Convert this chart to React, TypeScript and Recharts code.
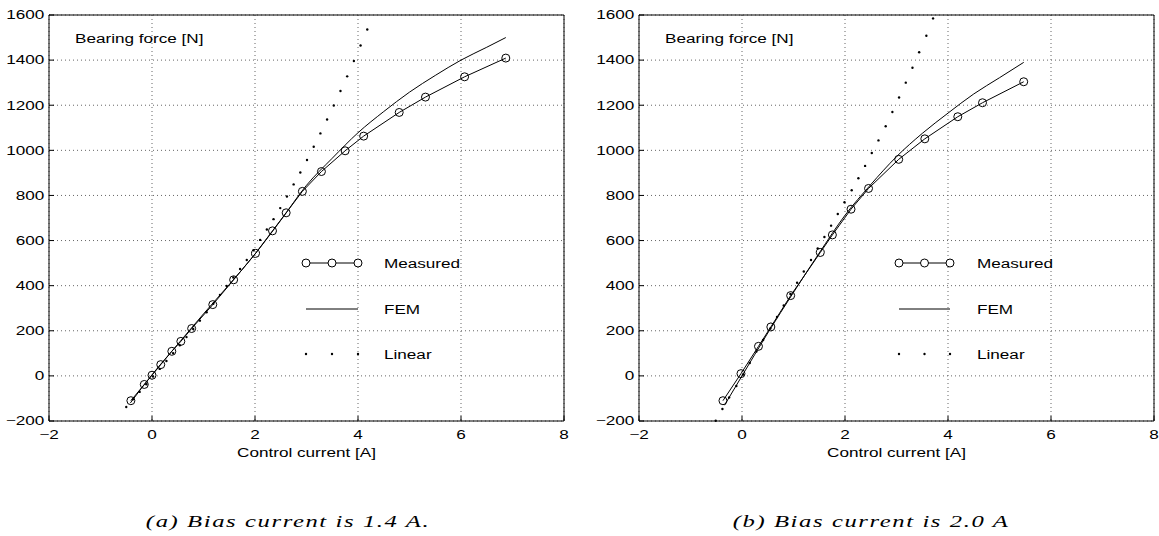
import React from "react";
import { LineChart, Line, XAxis, YAxis, CartesianGrid, ReferenceArea, Legend } from "recharts";

// ---------- data ----------
const xTicks = [-2, 0, 2, 4, 6, 8];
const yTicks = [-200, 0, 200, 400, 600, 800, 1000, 1200, 1400, 1600];

const seriesNames = ["Measured", "FEM", "Linear"];
const yTitle = "Bearing force [N]";
const xTitle = "Control current [A]";
const captions = ["(a) Bias current is 1.4 A.", "(b) Bias current is 2.0 A"];

// (a) bias current 1.4 A
const measuredAX = [-0.41, -0.15, 0.0, 0.17, 0.385, 0.56, 0.77, 1.18, 1.585, 2.01, 2.34, 2.605, 2.92, 3.29, 3.75, 4.11, 4.8, 5.31, 6.07, 6.87];
const measuredAY = [-110, -38, 3, 50, 109, 153, 210, 316, 426, 543, 643, 723, 818, 906, 998, 1063, 1168, 1236, 1326, 1409];
const femAX = [-0.42, 0, 0.5, 1, 1.5, 2, 2.5, 3, 3.5, 4, 4.5, 5, 5.5, 6, 6.5, 6.87];
const femAY = [-120, 5, 140, 275, 405, 540, 690, 845, 965, 1078, 1172, 1258, 1332, 1400, 1457, 1500];
const linearAX = [-0.5, -0.37, -0.24, -0.11, 0.02, 0.15, 0.28, 0.41, 0.54, 0.67, 0.8, 0.93, 1.06, 1.19, 1.32, 1.45, 1.58, 1.71, 1.84, 1.97, 2.1, 2.23, 2.36, 2.49, 2.62, 2.75, 2.88, 3.01, 3.14, 3.27, 3.4, 3.53, 3.66, 3.79, 3.92, 4.05, 4.18];
const linearAY = [-138, -104, -71, -37, -3, 31, 66, 101, 136, 172, 208, 245, 282, 320, 359, 399, 436, 474, 514, 557, 603, 649, 695, 744, 795, 849, 902, 957, 1016, 1075, 1137, 1199, 1263, 1328, 1396, 1465, 1536];

// (b) bias current 2.0 A
const measuredBX = [-0.37, -0.02, 0.32, 0.56, 0.945, 1.52, 1.755, 2.117, 2.457, 3.043, 3.55, 4.19, 4.67, 5.47];
const measuredBY = [-110, 10, 131, 217, 356, 547, 625, 739, 831, 960, 1051, 1149, 1211, 1304];
const femBX = [-0.34, 0, 0.5, 1, 1.5, 2, 2.5, 3, 3.5, 4, 4.5, 5, 5.47];
const femBY = [-130, 0, 190, 370, 545, 712, 848, 972, 1075, 1165, 1250, 1322, 1390];
const linearBX = [-0.51, -0.38, -0.25, -0.11, 0.02, 0.15, 0.28, 0.41, 0.55, 0.68, 0.81, 0.94, 1.07, 1.2, 1.34, 1.47, 1.6, 1.73, 1.86, 1.99, 2.13, 2.26, 2.39, 2.52, 2.65, 2.79, 2.92, 3.05, 3.18, 3.31, 3.44, 3.58, 3.71];
const linearBY = [-199, -147, -96, -45, 6, 57, 108, 159, 210, 261, 312, 363, 413, 463, 514, 565, 616, 666, 718, 770, 823, 876, 931, 988, 1044, 1107, 1170, 1234, 1300, 1366, 1435, 1508, 1585];

const zip = (xs: number[], ys: number[]) => xs.map((x, i) => ({ x, y: ys[i] }));

// ---------- styling ----------
const PLOT_LEFT = 49;
const PLOT_TOP = 15;
const PLOT_BOTTOM = 421;
const CHART_H = 470;
const SX = 1.37;
const SANS = "'Liberation Sans', Arial, Helvetica, sans-serif";

const fmt = (v: number) => (v < 0 ? "\u2212" + Math.abs(v) : String(v));

function SText({ x, y, anchor = "start", size = 12.5, children }: any) {
  return (
    <text
      transform={`translate(${x},${y}) scale(${SX},1)`}
      textAnchor={anchor}
      fontSize={size}
      fontFamily={SANS}
      fill="#000"
    >
      {children}
    </text>
  );
}

function Panel({ width, marginRight, measured, fem, linear, leg }: any) {
  const plotRight = width - marginRight;
  const XTick = (p: any) => (
    <SText x={p.x} y={PLOT_BOTTOM + 18} anchor="middle">
      {fmt(p.payload.value)}
    </SText>
  );
  const YTick = (p: any) => (
    <SText x={PLOT_LEFT - 4.6} y={p.y + 4.3} anchor="end">
      {fmt(p.payload.value)}
    </SText>
  );
  const rows = [263, 309, 354];
  const mid = (leg.x1 + leg.x2) / 2;
  const legendContent = () => (
    <svg width={width} height={CHART_H} style={{ position: "absolute", left: 0, top: 0, overflow: "visible" }}>
      <line x1={leg.x1} x2={leg.x2} y1={rows[0]} y2={rows[0]} stroke="#000" strokeWidth={1} />
      {[leg.x1, mid, leg.x2].map((cx: number, i: number) => (
        <circle key={"c" + i} cx={cx} cy={rows[0]} r={4} fill="#fff" stroke="#000" strokeWidth={1} />
      ))}
      <line x1={leg.x1} x2={leg.x2} y1={rows[1]} y2={rows[1]} stroke="#000" strokeWidth={1} />
      {[leg.x1, mid, leg.x2].map((cx: number, i: number) => (
        <circle key={"d" + i} cx={cx} cy={rows[2]} r={1.2} fill="#000" />
      ))}
      {seriesNames.map((n, i) => (
        <SText key={n} x={leg.tx} y={rows[i] + 4.5}>
          {n}
        </SText>
      ))}
    </svg>
  );
  return (
    <LineChart width={width} height={CHART_H} margin={{ top: PLOT_TOP, right: marginRight, bottom: 0, left: 0 }}>
      <CartesianGrid stroke="#666" strokeDasharray="1 3" strokeWidth={1} />
      <XAxis
        dataKey="x"
        type="number"
        domain={[-2, 8]}
        ticks={xTicks}
        height={49}
        axisLine={false}
        tickLine={{ stroke: "#000" }}
        tickSize={-5}
        tick={XTick}
        interval={0}
        label={{
          content: () => (
            <SText x={(PLOT_LEFT + plotRight) / 2} y={457} anchor="middle">
              {xTitle}
            </SText>
          ),
        }}
      />
      <YAxis
        type="number"
        domain={[-200, 1600]}
        ticks={yTicks}
        width={49}
        axisLine={false}
        tickLine={{ stroke: "#000" }}
        tickSize={-5}
        tick={YTick}
        interval={0}
        label={{
          content: () => (
            <SText x={PLOT_LEFT + 26} y={43}>
              {yTitle}
            </SText>
          ),
        }}
      />
      <ReferenceArea x1={-2} x2={8} y1={-200} y2={1600} fill="none" stroke="#000" strokeWidth={1} fillOpacity={0} />
      <Line
        data={linear}
        dataKey="y"
        name="Linear"
        stroke="none"
        isAnimationActive={false}
        dot={{ r: 1.2, fill: "#000", stroke: "none" }}
        activeDot={false}
      />
      <Line
        data={fem}
        dataKey="y"
        name="FEM"
        type="monotone"
        stroke="#000"
        strokeWidth={1}
        isAnimationActive={false}
        dot={false}
        activeDot={false}
      />
      <Line
        data={measured}
        dataKey="y"
        name="Measured"
        type="linear"
        stroke="#000"
        strokeWidth={1}
        isAnimationActive={false}
        dot={{ r: 4, fill: "none", stroke: "#000", strokeWidth: 1 }}
        activeDot={false}
      />
      <Legend
        layout="vertical"
        align="center"
        verticalAlign="middle"
        content={legendContent}
        wrapperStyle={{ position: "absolute", left: 0, top: 0, width: width, height: CHART_H, pointerEvents: "none" }}
      />
    </LineChart>
  );
}

export default function App() {
  return (
    <div
      style={{
        position: "absolute",
        left: 0,
        top: 0,
        width: 1159,
        height: 536,
        background: "#fff",
        overflow: "hidden",
      }}
    >
      <div style={{ position: "absolute", left: 0, top: 0 }}>
        <Panel
          width={580}
          marginRight={16}
          measured={zip(measuredAX, measuredAY)}
          fem={zip(femAX, femAY)}
          linear={zip(linearAX, linearAY)}
          leg={{ x1: 306, x2: 358, tx: 384 }}
        />
      </div>
      <div style={{ position: "absolute", left: 590, top: 0 }}>
        <Panel
          width={569}
          marginRight={5}
          measured={zip(measuredBX, measuredBY)}
          fem={zip(femBX, femBY)}
          linear={zip(linearBX, linearBY)}
          leg={{ x1: 309, x2: 360, tx: 387 }}
        />
      </div>
      <svg width={1159} height={536} style={{ position: "absolute", left: 0, top: 0, pointerEvents: "none" }}>
        {[288, 871].map((cx, i) => (
          <text
            key={i}
            transform={`translate(${cx},527) scale(1.45,1)`}
            textAnchor="middle"
            fontSize={17}
            letterSpacing={1.1}
            fontStyle="italic"
            fontFamily="'Liberation Serif', 'Times New Roman', serif"
            fill="#000"
          >
            {captions[i]}
          </text>
        ))}
      </svg>
    </div>
  );
}
